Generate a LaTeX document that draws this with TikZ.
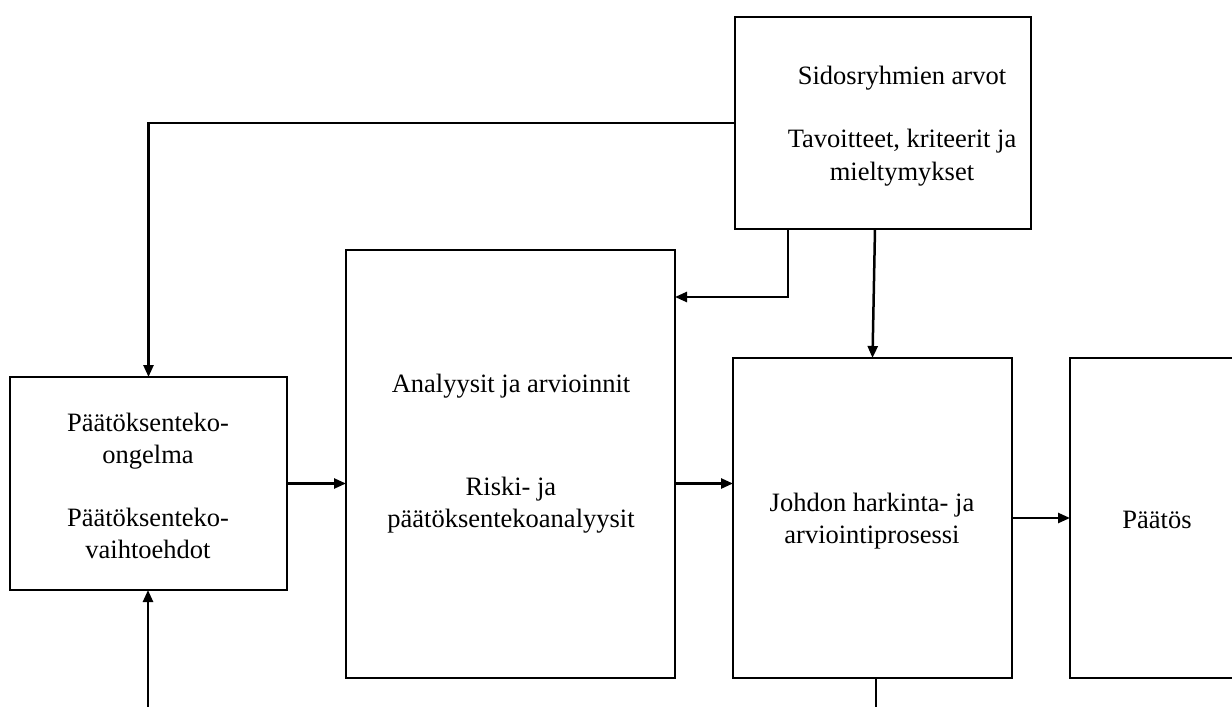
\documentclass[tikz,border=0pt]{standalone}
\usepackage{fontspec}
\setmainfont{Liberation Serif}
\usetikzlibrary{arrows.meta}
\begin{document}
\begin{tikzpicture}[x=1pt,y=-1pt,
  box/.style={draw,line width=2.8pt,anchor=north west,inner sep=0pt,outer sep=0pt},
  lbl/.style={font=\fontsize{26.5}{32.5}\selectfont,align=center},
  conn/.style={line width=2.5pt,-{Triangle[length=12pt,width=10pt]}},
  plain/.style={line width=2.5pt}]
\useasboundingbox (0,0) rectangle (1232,707);

% boxes
\node[box,minimum width=296pt,minimum height=212pt] (vals) at (735,17) {};
\node[box,minimum width=329pt,minimum height=428pt] (an) at (346,250) {};
\node[box,minimum width=277pt,minimum height=213pt] (prob) at (10,377) {};
\node[box,minimum width=279pt,minimum height=320pt] (jo) at (733,358) {};
\node[box,minimum width=175pt,minimum height=320pt] (dec) at (1070,358) {};

% texts
\node[lbl] (valst) at (902,126) {Sidosryhmien arvot\\[31pt]Tavoitteet, kriteerit ja\\mieltymykset};
\node[lbl] (ant1) at (511,386) {Analyysit ja arvioinnit};
\node[lbl] (ant2) at (511,505) {Riski- ja\\päätöksentekoanalyysit};
\node[lbl] (probt) at (148,486) {Päätöksenteko-\\ongelma\\[30pt]Päätöksenteko-\\vaihtoehdot};
\node[lbl] (jot) at (872,521) {Johdon harkinta- ja\\arviointiprosessi};
\node[lbl] (dect) at (1157,520) {Päätös};

% free ends and bends
\coordinate (k1) at (788,297);
\coordinate (bl) at (148,707);
\coordinate (br) at (876,707);

% connectors
\draw[conn] (vals.west) -| (prob.north);
\draw[conn] (vals.south -| k1) |- (an.east |- k1);
\draw[conn] ([xshift=-8pt]vals.south) -- (jo.north);
\draw[conn] (prob.east) -- (prob.east -| an.west);
\draw[conn] (prob.east -| an.east) -- (prob.east -| jo.west);
\draw[conn] (jo.east) -- (jo.east -| dec.west);
\draw[conn] (bl) -- (bl |- prob.south);
\draw[plain] (jo.south -| br) -- (br);
\end{tikzpicture}
\end{document}
